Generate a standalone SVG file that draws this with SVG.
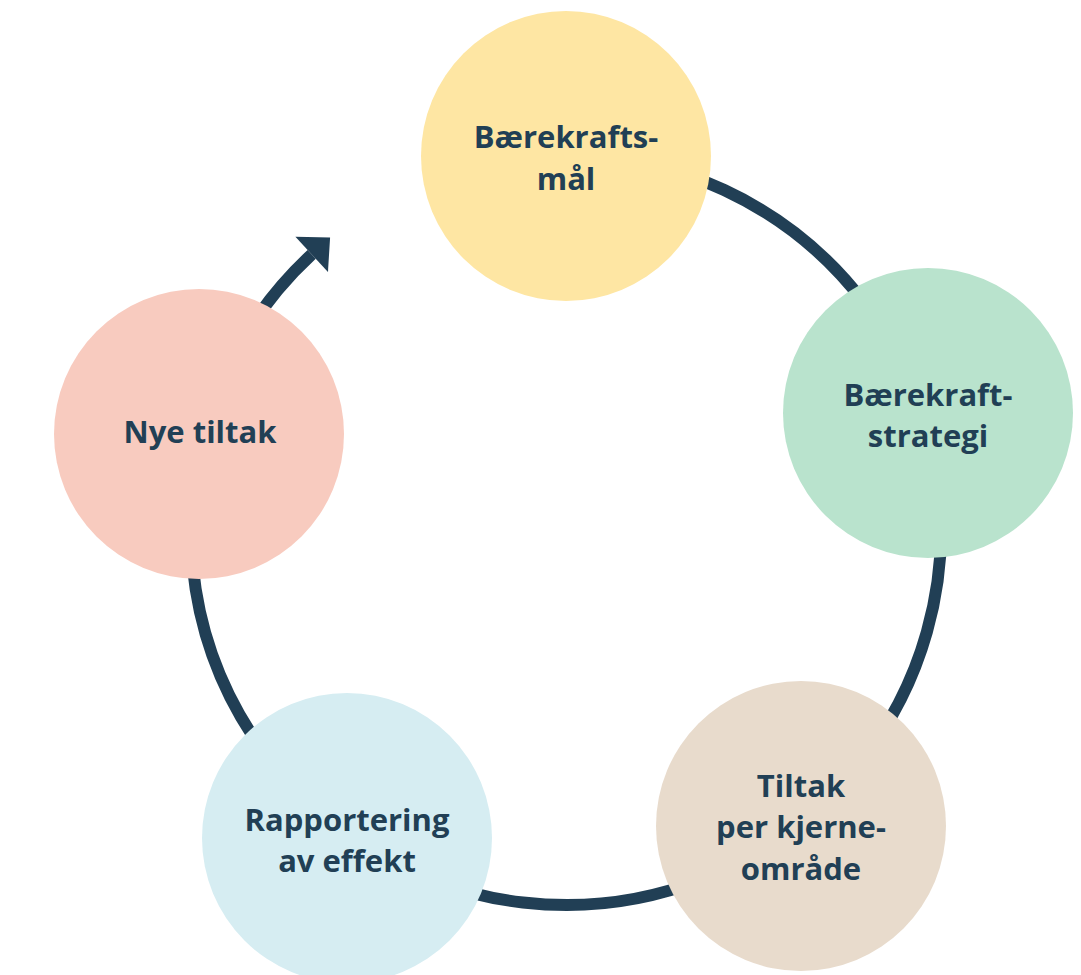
<svg xmlns="http://www.w3.org/2000/svg" width="1081" height="975" viewBox="0 0 1081 975">
<style>
.lbl{font-family:"Open Sans","Liberation Sans",sans-serif;font-weight:bold;font-size:31px;fill:#213f55;text-anchor:middle}
.ring{fill:none;stroke:#213f55;stroke-width:12}
</style>
<defs>
<marker id="ah" viewBox="-1 -25 27 50" markerWidth="27" markerHeight="50" refX="0" refY="0" orient="auto" markerUnits="userSpaceOnUse">
<path d="M0,-24 L25,0 L0,24 Z" fill="#213f55"/>
</marker>
</defs>
<rect width="1081" height="975" fill="#ffffff"/>
<g id="connectors">
<path class="ring" d="M566,155 A375,375 0 1 1 311.7,254.4" marker-end="url(#ah)"/>
</g>
<g id="node-maal">
<circle cx="566" cy="156" r="145" fill="#fee6a3"/>
<text class="lbl" x="566" y="148">Bærekrafts-</text>
<text class="lbl" x="566" y="190">mål</text>
</g>
<g id="node-strategi">
<circle cx="928" cy="413" r="145" fill="#b9e3cd"/>
<text class="lbl" x="928" y="406">Bærekraft-</text>
<text class="lbl" x="928" y="447">strategi</text>
</g>
<g id="node-tiltak">
<circle cx="801" cy="826" r="145" fill="#e8dbcc"/>
<text class="lbl" x="801" y="797">Tiltak</text>
<text class="lbl" x="801" y="838">per kjerne-</text>
<text class="lbl" x="801" y="880">område</text>
</g>
<g id="node-rapportering">
<circle cx="347" cy="838" r="145" fill="#d6edf2"/>
<text class="lbl" x="347" y="831">Rapportering</text>
<text class="lbl" x="347" y="872">av effekt</text>
</g>
<g id="node-nye">
<circle cx="199" cy="434" r="145" fill="#f8cbbf"/>
<text class="lbl" x="200" y="443">Nye tiltak</text>
</g>
</svg>
